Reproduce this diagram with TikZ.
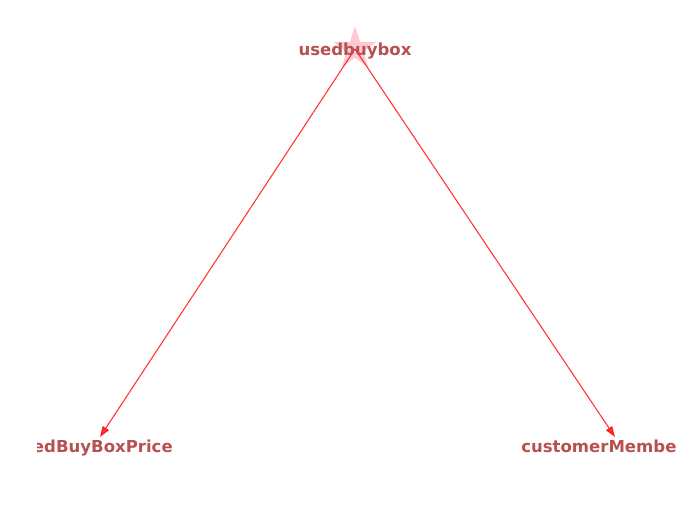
\documentclass[tikz,border=0pt]{standalone}
\usepackage{fontspec}
\setmainfont{DejaVu Sans}
\usetikzlibrary{positioning,shapes.geometric,arrows.meta}
\definecolor{labelred}{RGB}{183,80,80}
\definecolor{starpink}{RGB}{255,192,203}
\tikzset{
  lbl/.style={text=labelred,font=\bfseries\fontsize{12.4}{14}\selectfont,inner sep=0pt},
  edge/.style={draw=red,opacity=0.8,line width=0.8pt,-{Triangle[length=8pt,width=5.5pt]}}
}
\begin{document}
\begin{tikzpicture}[x=0.75pt,y=-0.75pt]
    \useasboundingbox (0,0) rectangle (687,523);
    \node[star,star points=5,star point ratio=2.6,minimum size=34pt,inner sep=0pt,fill=starpink,opacity=0.85] (usedbuybox) at (355,49) {};
    \coordinate (pricetip) at (100,437);
    \coordinate (membertip) at (615,437);
    \draw[edge] (usedbuybox.center) -- (pricetip);
    \draw[edge] (usedbuybox.center) -- (membertip);
    \node[lbl,anchor=base] (top) at (355,55.5) {usedbuybox};
    \begin{scope}
      \clip (37,400) rectangle (687,500);
      \node[lbl,anchor=base east] (price) at (173,452.5) {usedBuyBoxPrice};
    \end{scope}
    \node[lbl,anchor=base west] (member) at (521,452.5) {customerMembe};
  \end{tikzpicture}
\end{document}
